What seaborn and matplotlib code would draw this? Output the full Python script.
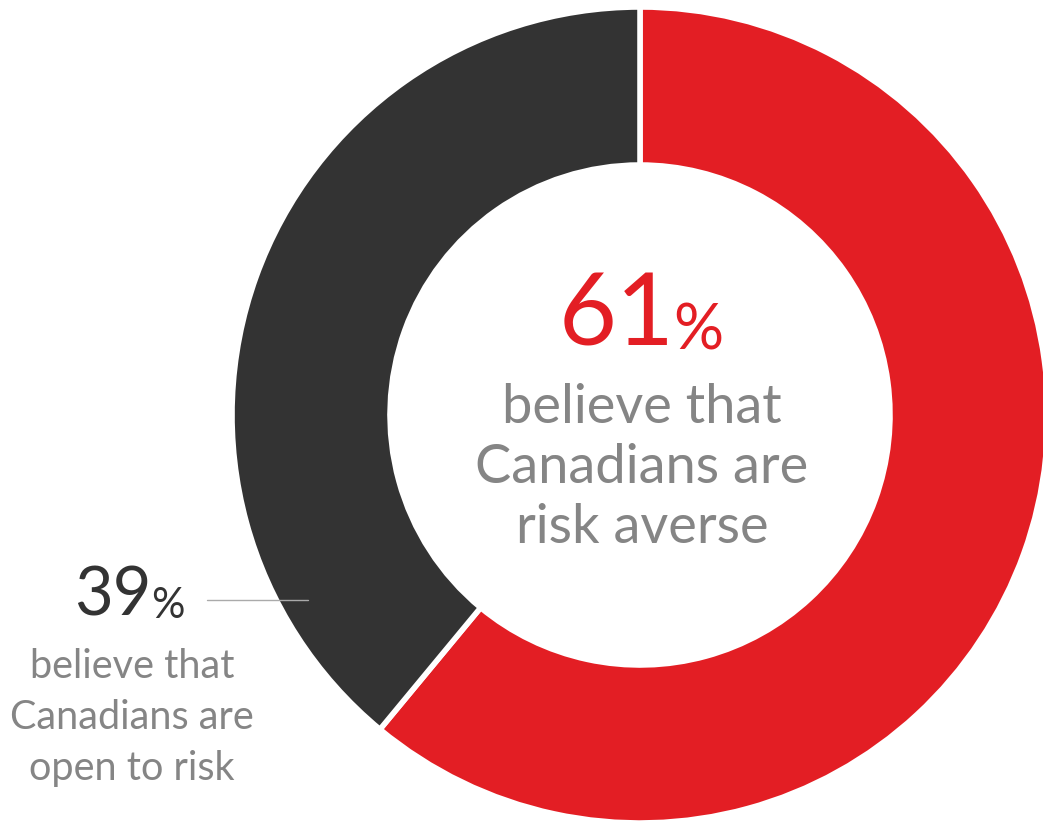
import matplotlib
matplotlib.use("Agg")
import matplotlib.pyplot as plt
import seaborn as sns

sns.set_theme(style="white")
plt.rcParams['font.family'] = ['Lato', 'DejaVu Sans']

# Data
categories = ["Risk averse", "Open to risk"]
values = [61, 39]
slice_colors = ["#E31E24", "#333333"]
center_lines = ["believe that", "Canadians are", "risk averse"]
side_lines = ["believe that", "Canadians are", "open to risk"]

W, H = 1043, 826
fig = plt.figure(figsize=(W / 100, H / 100), dpi=100)
ax = fig.add_axes([0, 0, 1, 1])

cx, cy = 640, 415
R_out, R_in = 408, 250

# y axis is inverted (pixel coords), so counterclock=True appears clockwise
wedges, _ = ax.pie(values, colors=slice_colors, startangle=-90, counterclock=True,
                   radius=R_out, center=(cx, cy), frame=True,
                   wedgeprops=dict(width=R_out - R_in, edgecolor="white", linewidth=4))
ax.set_xlim(0, W)
ax.set_ylim(H, 0)
ax.set_aspect("equal")
ax.axis("off")

gray = "#858585"
# center big value
ax.text(617, 345, f"{values[0]}", color=slice_colors[0], fontsize=72, ha="center", va="baseline")
ax.text(698, 349, "%", color=slice_colors[0], fontsize=45, ha="center", va="baseline")
for i, line in enumerate(center_lines):
    ax.text(642, 423 + i * 60, line, color=gray, fontsize=39, ha="center", va="baseline")

# side label
ax.text(113, 616, f"{values[1]}", color="#333333", fontsize=48, ha="center", va="baseline")
ax.text(168, 618, "%", color="#333333", fontsize=30, ha="center", va="baseline")
for i, line in enumerate(side_lines):
    ax.text(132, 678 + i * 51, line, color=gray, fontsize=28.5, ha="center", va="baseline")
ax.plot([207, 308], [600, 600], color="#aaaaaa", linewidth=1)

fig.savefig("out.png", dpi=100, facecolor="white")
